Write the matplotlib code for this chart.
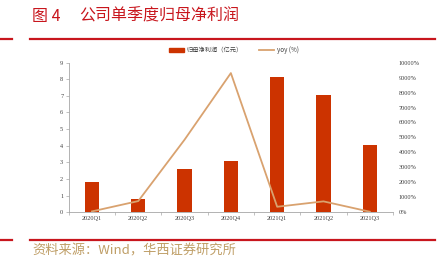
import numpy as np
import matplotlib
matplotlib.use('Agg')
import matplotlib.pyplot as plt
from matplotlib.lines import Line2D
from matplotlib.patches import Patch

plt.rcParams['font.family'] = ['Noto Sans CJK SC', 'DejaVu Sans']

quarters = ['2020Q1', '2020Q2', '2020Q3', '2020Q4', '2021Q1', '2021Q2', '2021Q3']
profit = [1.84, 0.82, 2.6, 3.07, 8.13, 7.05, 4.04]  # 归母净利润(亿元)
yoy = [60, 750, 4850, 9300, 370, 730, 40]  # yoy (%)

bar_c = '#CC3300'
line_c = '#D9A26F'
red = '#C8161D'
gray = '#A6A6A6'
serif = ['Liberation Serif', 'DejaVu Serif']

fig = plt.figure(figsize=(4.41, 2.70), dpi=100)
ax = fig.add_axes([0.156, 0.2137, 0.735, 0.5545])
ax2 = ax.twinx()

x = np.arange(len(quarters))
ax.bar(x, profit, width=0.31, color=bar_c, zorder=2)
ax2.plot(x, yoy, color=line_c, lw=1.3)

ax.set_xlim(-0.5, len(quarters) - 0.5)
ax.set_ylim(0, 9)
ax2.set_ylim(0, 10000)
ax.set_yticks(range(10))
ax2.set_yticks(range(0, 10001, 1000))
ax2.set_yticklabels([f'{v}%' for v in range(0, 10001, 1000)])
ax.set_xticks(x)
ax.set_xticklabels(quarters)
ax.set_xticks(np.arange(-0.5, len(quarters), 1), minor=True)

for a in (ax, ax2):
    for s in ('top', 'right', 'left', 'bottom'):
        a.spines[s].set_visible(False)
for s in ('left', 'bottom'):
    ax.spines[s].set_visible(True)
    ax.spines[s].set_color(gray)
    ax.spines[s].set_linewidth(0.6)

ax.tick_params(axis='y', labelsize=4.5, length=2, width=0.5, color=gray, pad=2, labelcolor='#404040')
ax.tick_params(axis='x', which='major', length=0, labelsize=4.5, pad=3, labelcolor='#404040')
ax.tick_params(axis='x', which='minor', length=2.5, width=0.5, color=gray)
ax2.tick_params(axis='y', labelsize=4.5, length=0, pad=4, labelcolor='#404040')
for lab in ax.get_xticklabels() + ax.get_yticklabels() + ax2.get_yticklabels():
    lab.set_family(serif)

handles = [Patch(color=bar_c), Line2D([0], [0], color=line_c, lw=1.3)]
fig.legend(handles, ['归母净利润（亿元）', 'yoy (%)'], loc='center', bbox_to_anchor=(0.53, 0.815),
           ncol=2, frameon=False, fontsize=4.5, handlelength=2.4, handleheight=0.6,
           columnspacing=2.5, handletextpad=0.5, labelcolor='#404040')

fig.text(0.073, 0.939, '图 4', color=red, fontsize=11.5, va='center')
fig.text(0.179, 0.939, '公司单季度归母净利润', color=red, fontsize=11.5, va='center')
fig.add_artist(Line2D([0.068, 0.986], [0.857, 0.857], color=red, lw=1.6))
fig.add_artist(Line2D([0.0, 0.027], [0.857, 0.857], color=red, lw=1.6))
fig.add_artist(Line2D([0.068, 0.986], [0.111, 0.111], color=red, lw=1.6))
fig.add_artist(Line2D([0.0, 0.027], [0.111, 0.111], color=red, lw=1.6))
fig.text(0.073, 0.072, '资料来源：Wind，华西证券研究所', color='#BF9E66', fontsize=9.5, va='center')

fig.savefig('out.png', dpi=100)
